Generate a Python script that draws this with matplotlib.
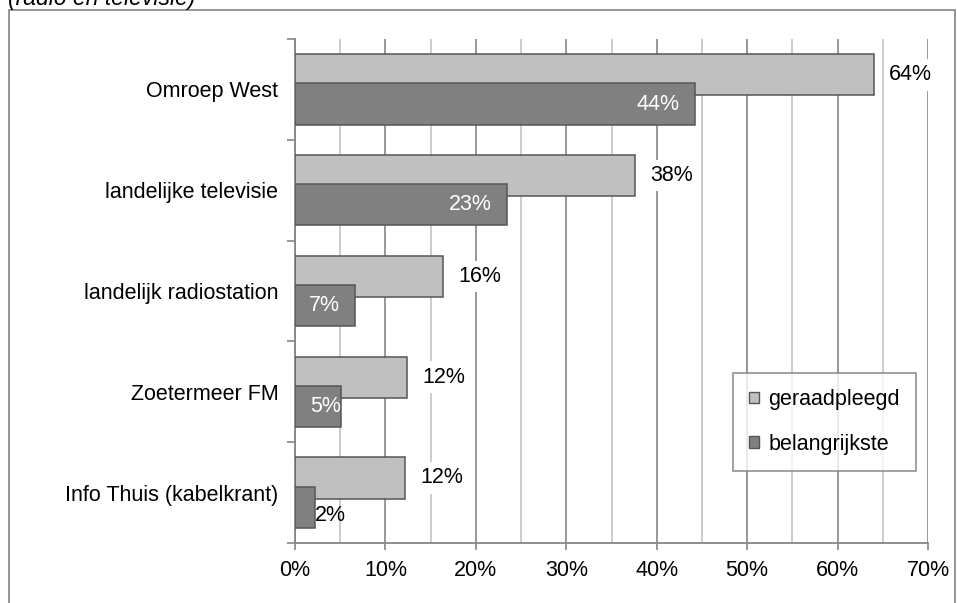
import matplotlib.pyplot as plt
from matplotlib.patches import Patch, Rectangle

plt.rcParams['font.family'] = ['Liberation Sans', 'DejaVu Sans']

categories = ['Omroep West', 'landelijke televisie', 'landelijk radiostation',
              'Zoetermeer FM', 'Info Thuis (kabelkrant)']
geraadpleegd = [64.0, 37.6, 16.4, 12.4, 12.2]
belangrijkste = [44.2, 23.4, 6.6, 5.1, 2.2]
labels_ger = ['64%', '38%', '16%', '12%', '12%']
labels_bel = ['44%', '23%', '7%', '5%', '2%']
xticks = [0, 10, 20, 30, 40, 50, 60, 70]

FS = 15.5
light = '#c0c0c0'
dark = '#808080'
edge = '#555555'

fig = plt.figure(figsize=(9.57, 6.03), dpi=100)
ax = fig.add_axes([295 / 957, 1 - 543 / 603, (928 - 295) / 957, (543 - 39) / 603])

# outer chart border
fig.patches.append(Rectangle((9 / 957, -0.05), (955 - 9) / 957, 1.05 - 10 / 603,
                             transform=fig.transFigure, fill=False,
                             edgecolor='#8c8c8c', lw=1.3))
fig.text(8 / 957, 1 - 5 / 603, '(radio en televisie)', fontsize=16.5,
         style='italic', va='baseline', ha='left')

y = list(range(len(categories)))
h = 0.41
off = 0.145
ax.barh([i - off for i in y], geraadpleegd, height=h, color=light,
        edgecolor=edge, lw=1.1, zorder=3)
ax.barh([i + off for i in y], belangrijkste, height=h, color=dark,
        edgecolor=edge, lw=1.1, zorder=4)

# value labels
for i in y:
    ax.annotate(labels_ger[i], (geraadpleegd[i], i - off), xytext=(11, 0),
                textcoords='offset points', ha='left', va='center',
                fontsize=FS, zorder=5,
                bbox=dict(boxstyle='square,pad=0.25', fc='white', ec='none'))
    if belangrijkste[i] < 3:
        ax.annotate(labels_bel[i], (belangrijkste[i], i + off), xytext=(0, -6),
                    textcoords='offset points', ha='left', va='center',
                    fontsize=FS, color='black', zorder=5)
    else:
        dx = -11 if belangrijkste[i] > 6 else 0
        ax.annotate(labels_bel[i], (belangrijkste[i], i + off), xytext=(dx, 0),
                    textcoords='offset points', ha='right', va='center',
                    fontsize=FS, color='white', zorder=5)

ax.set_xlim(0, 70)
ax.set_ylim(len(categories) - 0.5, -0.5)
ax.set_xticks(xticks)
ax.set_xticklabels([f'{t}%' for t in xticks], fontsize=FS)
ax.set_xticks([t + 5 for t in xticks[:-1]], minor=True)
ax.grid(axis='x', which='major', color='#868686', lw=1.2)
ax.grid(axis='x', which='minor', color='#c4c4c4', lw=1.2)
ax.set_axisbelow(True)

ax.set_yticks([i - 0.5 for i in y] + [len(y) - 0.5])
ax.set_yticklabels([])
ax.set_yticks(y, minor=True)
ax.set_yticklabels(categories, minor=True, fontsize=FS)

ax.tick_params(axis='x', which='major', length=5, width=1.2, color='#868686',
               pad=7)
ax.tick_params(axis='x', which='minor', length=0)
ax.tick_params(axis='y', which='major', length=6, width=1.2, color='#868686')
ax.tick_params(axis='y', which='minor', length=0, pad=12)

for s in ['top', 'right']:
    ax.spines[s].set_visible(False)
for s in ['left', 'bottom']:
    ax.spines[s].set_color('#868686')
    ax.spines[s].set_linewidth(1.3)

handles = [Patch(facecolor=light, edgecolor=edge, lw=1.0, label='geraadpleegd'),
           Patch(facecolor=dark, edgecolor=edge, lw=1.0, label='belangrijkste')]
leg = ax.legend(handles=handles, loc='lower left',
                bbox_to_anchor=(0.692, 0.143), borderaxespad=0,
                fontsize=FS, frameon=True, fancybox=False,
                handlelength=0.45, handleheight=0.45, handletextpad=0.45,
                labelspacing=1.1, borderpad=0.75)
leg.get_frame().set_edgecolor('#808080')
leg.get_frame().set_linewidth(1.3)
leg.set_zorder(6)

fig.savefig('out.png', dpi=100)
